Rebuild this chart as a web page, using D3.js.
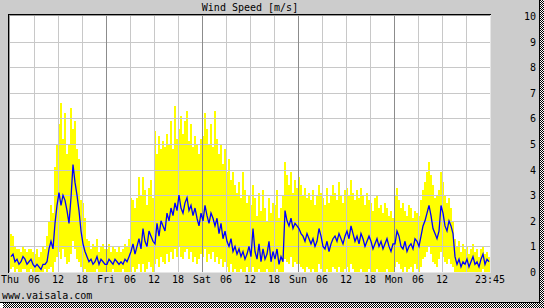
<!DOCTYPE html>
<html>
<head>
<meta charset="utf-8">
<script src="https://cdn.jsdelivr.net/npm/d3@7"></script>
<style>
  body { margin: 0; background: #fff; }
  svg text { font-family: "DejaVu Sans Mono", "Liberation Mono", monospace; font-size: 10px; fill: #000; }
</style>
</head>
<body>
<svg id="chart"></svg>
<script>
// half-hour steps from Thu 00:00 to Mon 23:30
const windAvg = [
  0.6,0.7,0.4,0.5,0.3,0.4,0.6,0.5,0.3,0.4,0.5,0.3, 0.2,0.3,0.2,0.1,0.3,0.3, 0.4,0.9,1.2,0.9,1.9,2.6,
  3.1,2.6,3.0,2.8,2.4,1.9, 2.9,4.2,3.5,3.0,2.4,1.6, 1.1,0.8,0.6,0.4,0.5,0.3, 0.4,0.6,0.3,0.5,0.4,0.3,
  0.3,0.5,0.4,0.3,0.5,0.4, 0.3,0.4,0.3,0.5,0.4,0.6, 0.8,1.1,0.7,1.0,1.3,0.9, 1.7,1.2,1.0,1.6,1.4,1.2,
  1.1,1.9,1.4,2.0,1.8,1.6, 2.3,2.0,2.5,2.2,2.7,2.4, 3.0,2.5,2.3,2.7,2.9,2.4, 2.6,2.2,2.5,2.1,1.8,2.3,
  2.0,2.6,2.2,1.9,2.3,2.1, 1.8,2.1,1.5,1.9,1.3,1.6, 1.2,1.0,1.3,0.8,1.0,0.7, 0.9,0.6,0.8,0.5,0.7,1.0,
  0.6,1.7,0.8,0.5,1.1,0.4, 0.9,0.5,0.7,1.2,0.4,0.8, 0.5,0.9,0.3,0.6,0.4,2.4, 2.0,1.8,2.1,1.7,1.9,1.8,
  1.7,1.5,1.4,1.2,1.5,1.3, 1.1,1.3,1.0,1.2,1.7,1.4, 1.0,0.9,1.2,0.8,1.1,1.3, 1.4,1.2,1.5,1.3,1.1,1.4,
  1.6,1.3,1.8,1.5,1.2,1.4, 1.1,1.5,1.3,1.0,1.2,1.4, 1.2,0.9,1.1,1.3,1.0,1.2, 0.9,1.1,1.3,1.0,0.8,1.1,
  1.1,1.6,1.4,1.0,0.9,1.2, 0.8,1.0,1.1,0.9,1.3,1.2, 1.0,1.4,1.8,2.0,2.3,2.6, 2.2,1.7,1.5,1.3,1.6,2.6,
  2.3,1.8,1.6,2.0,1.8,1.5, 0.6,0.3,0.5,0.2,0.4,0.3, 0.5,0.2,0.4,0.6,0.3,0.4, 0.2,0.5,0.7,0.3,0.5,0.4
];
const windMax = [
  1.5,1.4,1.0,0.9,0.9,0.8,1.0,0.9,0.8,0.9,0.9,0.8, 0.7,0.9,0.6,0.8,1.0,0.9, 1.4,2.0,2.6,2.3,4.1,5.0,
  5.8,6.6,5.2,6.2,4.6,5.0, 6.4,5.6,5.9,4.8,4.4,2.8, 2.7,2.1,1.3,1.2,0.9,1.1, 1.0,1.3,0.8,1.0,1.1,0.9,
  0.9,1.1,0.8,1.0,0.9,0.8, 1.0,0.8,0.9,1.1,1.0,1.3, 2.9,2.8,2.5,2.9,3.7,3.0, 3.7,3.2,2.6,3.3,3.6,2.9,
  5.5,4.6,5.3,4.8,5.1,4.9, 5.4,5.0,5.9,4.8,6.5,5.2, 5.6,6.1,5.4,5.9,6.3,5.1, 5.8,4.9,5.3,5.0,4.6,5.2,
  5.3,6.2,5.6,5.0,5.8,4.9, 6.3,5.2,4.6,5.0,4.2,4.8, 3.9,4.4,3.6,3.9,3.4,3.1, 3.5,2.9,3.9,3.2,2.7,3.0,
  2.6,3.4,2.9,2.2,3.1,2.4, 3.2,2.5,2.0,2.9,2.3,2.7, 2.6,3.2,2.1,2.5,3.0,4.3, 3.8,3.4,3.9,3.1,3.6,3.3,
  3.7,3.4,3.0,3.3,2.9,3.1, 2.8,3.2,2.6,3.0,3.4,3.1, 2.9,2.6,3.3,2.7,3.0,3.4, 3.1,2.8,3.5,3.0,2.7,3.2,
  3.3,3.0,3.6,3.1,2.8,3.2, 2.9,3.3,3.0,2.6,3.1,2.8, 2.7,2.4,2.9,3.0,2.5,2.6, 2.3,2.7,2.5,2.2,2.4,2.1,
  3.0,3.3,2.8,2.5,2.7,2.4, 2.2,2.6,2.5,2.1,2.4,2.3, 2.2,2.8,3.2,3.5,3.9,4.3, 3.8,3.4,2.9,3.0,3.2,3.9,
  3.5,3.0,2.7,2.9,2.5,2.0, 1.3,1.0,1.2,0.8,1.1,0.9, 1.0,0.7,0.9,1.1,0.8,0.9, 0.6,0.9,1.0,0.7,0.8,0.6
];
const windMin = [
  0.1,0.2,0,0.1,0,0,0.1,0.1,0,0,0.1,0, 0,0,0,0,0,0.1, 0,0.1,0.2,0,0.4,0.6,
  0.8,0.5,0.9,0.6,0.3,0.4, 0.7,1.2,0.9,0.5,0.4,0.2, 0,0.1,0,0,0,0, 0,0.1,0,0,0,0,
  0,0,0,0.1,0,0, 0,0,0.1,0,0,0, 0,0.2,0,0.1,0.3,0, 0.3,0,0.1,0.4,0.2,0,
  0.3,0.5,0.2,0.6,0.4,0.3, 0.7,0.4,0.8,0.5,0.9,0.6, 1.0,0.6,0.5,0.8,0.9,0.5, 0.8,0.4,0.6,0.3,0.5,0.7,
  0.6,0.9,0.4,0.7,0.5,0.8, 0.4,0.6,0.3,0.5,0.2,0.4, 0.2,0,0.3,0,0.1,0, 0,0.1,0,0,0.2,0,
  0,0.2,0,0,0.1,0, 0,0,0.1,0,0,0, 0,0.1,0,0,0,0.5, 0.4,0.3,0.6,0.2,0.4,0.3,
  0.3,0.2,0.1,0,0.2,0.1, 0,0.1,0,0,0.3,0.1, 0,0,0.1,0,0,0.2, 0.1,0,0.2,0,0,0.1,
  0.2,0,0.3,0.1,0,0, 0,0.1,0,0,0,0.1, 0,0,0,0.1,0,0, 0,0,0.1,0,0,0,
  0.2,0.4,0.3,0.1,0,0.2, 0,0.1,0.2,0,0.3,0.1, 0,0.2,0.5,0.6,0.8,1.0, 0.7,0.4,0.3,0.2,0.5,0.8,
  0.6,0.4,0.3,0.5,0.3,0.2, 0,0,0,0,0,0, 0,0,0,0,0,0, 0,0,0.1,0,0,0
];
const tickHours = [0,6,12,18,24,30,36,42,48,54,60,66,72,78,84,90,96,102,108,120];
const tickLabels = ["Thu","06","12","18","Fri","06","12","18","Sat","06","12","18",
                    "Sun","06","12","18","Mon","06","12","23:45"];
const yTicks = [0,1,2,3,4,5,6,7,8,9,10];

const W = 544, H = 308;
const margin = { left: 10, right: 54, top: 16, bottom: 36 };

const svg = d3.select("#chart")
    .attr("width", W)
    .attr("height", H)
    .attr("shape-rendering", "crispEdges");

// checkered drop shadow
const defs = svg.append("defs");
const pat = defs.append("pattern")
    .attr("id", "checker")
    .attr("width", 2).attr("height", 2)
    .attr("patternUnits", "userSpaceOnUse");
pat.append("rect").attr("width", 2).attr("height", 2).attr("fill", "#fff");
pat.append("rect").attr("width", 1).attr("height", 1).attr("fill", "#000");
pat.append("rect").attr("x", 1).attr("y", 1).attr("width", 1).attr("height", 1).attr("fill", "#000");

svg.append("rect").attr("x", 540).attr("y", 0).attr("width", 4).attr("height", H).attr("fill", "url(#checker)");
svg.append("rect").attr("x", 3).attr("y", 303).attr("width", W - 3).attr("height", 5).attr("fill", "url(#checker)");

// grey panel
svg.append("rect")
    .attr("x", 0).attr("y", 0)
    .attr("width", 540).attr("height", 303)
    .attr("fill", "#cccccc");
svg.append("line").attr("x1", 539.5).attr("x2", 539.5).attr("y1", 0).attr("y2", 303).attr("stroke", "#000");
svg.append("line").attr("x1", 0).attr("x2", 540).attr("y1", 302.5).attr("y2", 302.5).attr("stroke", "#000");

const xScale = d3.scaleLinear()
    .domain([0, 120])
    .range([margin.left, 490]);
const yScale = d3.scaleLinear()
    .domain([0, 10])
    .range([272, margin.top]);

// plot area
svg.append("rect")
    .attr("x", 9).attr("y", 15)
    .attr("width", 482).attr("height", 257)
    .attr("fill", "#fff");

// min-max range bars
const data = windAvg.map((v, i) => ({ t: i * 0.5, avg: v, max: windMax[i], min: windMin[i] }));

svg.append("g")
  .selectAll("rect")
  .data(data)
  .join("rect")
    .attr("x", d => xScale(d.t))
    .attr("width", d => xScale(d.t + 0.5) - xScale(d.t))
    .attr("y", d => yScale(d.max))
    .attr("height", d => yScale(d.min) - yScale(d.max))
    .attr("fill", "#ffff00");

// grid
const grid = svg.append("g");
grid.selectAll(".hgrid")
  .data(yTicks.filter(d => d > 0 && d < 10))
  .join("line")
    .attr("class", "hgrid")
    .attr("x1", 10).attr("x2", 490)
    .attr("y1", d => Math.round(yScale(d)) + 0.5)
    .attr("y2", d => Math.round(yScale(d)) + 0.5)
    .attr("stroke", "#c8c8c8");
grid.selectAll(".vgrid")
  .data(d3.range(6, 120, 6))
  .join("line")
    .attr("class", "vgrid")
    .attr("x1", d => Math.round(xScale(d)) + 0.5)
    .attr("x2", d => Math.round(xScale(d)) + 0.5)
    .attr("y1", 16).attr("y2", 272)
    .attr("stroke", d => d % 24 === 0 ? "#8c8c8c" : "#c8c8c8");

// frame
svg.append("line").attr("x1", 8).attr("x2", 491).attr("y1", 14.5).attr("y2", 14.5).attr("stroke", "#000");
svg.append("line").attr("x1", 8.5).attr("x2", 8.5).attr("y1", 14).attr("y2", 273).attr("stroke", "#000");
svg.append("line").attr("x1", 9).attr("x2", 491).attr("y1", 15.5).attr("y2", 15.5).attr("stroke", "#999");
svg.append("line").attr("x1", 9.5).attr("x2", 9.5).attr("y1", 15).attr("y2", 273).attr("stroke", "#999");
svg.append("line").attr("x1", 490.5).attr("x2", 490.5).attr("y1", 15).attr("y2", 273).attr("stroke", "#e6e6e6");
svg.append("line").attr("x1", 9).attr("x2", 491).attr("y1", 272.5).attr("y2", 272.5).attr("stroke", "#e6e6e6");

// average line
svg.append("path")
    .datum(data)
    .attr("fill", "none")
    .attr("stroke", "#0000ff")
    .attr("stroke-width", 1.3)
    .attr("shape-rendering", "auto")
    .attr("d", d3.line()
      .x(d => xScale(d.t + 0.25))
      .y(d => yScale(d.avg)));

// title
svg.append("text")
    .attr("x", xScale(60))
    .attr("y", 11)
    .attr("text-anchor", "middle")
    .text("Wind Speed [m/s]");

// x labels
svg.append("g")
  .selectAll("text")
  .data(tickHours)
  .join("text")
    .attr("x", d => xScale(d))
    .attr("y", 283)
    .attr("text-anchor", "middle")
    .text((d, i) => tickLabels[i]);

// y labels on the right
svg.append("g")
  .selectAll("text")
  .data(yTicks)
  .join("text")
    .attr("x", 536)
    .attr("y", d => yScale(d) + 4)
    .attr("text-anchor", "end")
    .text(d => d);

svg.append("text")
    .attr("x", 2)
    .attr("y", 299)
    .text("www.vaisala.com");
</script>
</body>
</html>
